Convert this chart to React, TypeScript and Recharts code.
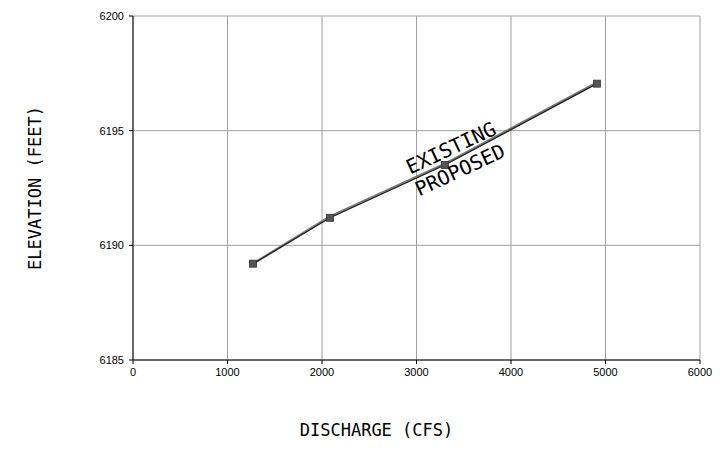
import React from "react";
import {
  LineChart,
  Line,
  XAxis,
  YAxis,
  CartesianGrid,
  ReferenceDot,
  Label,
} from "recharts";

const discharge = [1270, 2085, 3300, 4910];
const existing = [6189.2, 6191.25, 6193.55, 6197.1];
const proposed = [6189.2, 6191.2, 6193.5, 6197.05];
const xTicks = [0, 1000, 2000, 3000, 4000, 5000, 6000];
const yTicks = [6185, 6190, 6195, 6200];
const xTitle = "DISCHARGE (CFS)";
const yTitle = "ELEVATION (FEET)";
const existingLabel = { text: "EXISTING", x: 3365, y: 6194.25 };
const proposedLabel = { text: "PROPOSED", x: 3460, y: 6193.29 };

const data = discharge.map((q, i) => ({ q, existing: existing[i], proposed: proposed[i] }));

const CAD_FONT = "'DejaVu Sans Mono', monospace";
const TICK_FONT = "'Liberation Sans', Arial, sans-serif";

const SquareDot = (props: any) => {
  const { cx, cy, index } = props;
  if (cx == null || cy == null) return null;
  return (
    <rect
      key={`d-${index}`}
      x={cx - 3.5}
      y={cy - 3.5}
      width={7}
      height={7}
      fill="#555"
      stroke="#333"
      strokeWidth={0.8}
    />
  );
};

const rotatedLabel = (text: string) => (props: any) => {
  const vb = props.viewBox || {};
  const cx = (vb.x || 0) + (vb.width || 0) / 2;
  const cy = (vb.y || 0) + (vb.height || 0) / 2;
  return (
    <text
      x={cx}
      y={cy}
      textAnchor="middle"
      dominantBaseline="central"
      transform={`rotate(-25 ${cx} ${cy})`}
      fontFamily={CAD_FONT}
      fontSize={20}
      fill="#000"
    >
      {text}
    </text>
  );
};

export default function App() {
  return (
    <div style={{ position: "absolute", left: 0, top: 0, background: "#fff" }}>
      <LineChart
        width={720}
        height={476}
        data={data}
        margin={{ top: 16, right: 20, bottom: 86, left: 73 }}
      >
        <CartesianGrid stroke="#a0a0a0" strokeWidth={1} />
        <XAxis
          type="number"
          dataKey="q"
          domain={[0, 6000]}
          ticks={xTicks}
          interval={0}
          height={30}
          tickSize={4}
          tickMargin={4}
          stroke="#000"
          tick={{ fill: "#000", fontSize: 11, fontFamily: TICK_FONT }}
          tickLine={{ stroke: "#000" }}
          axisLine={{ stroke: "#000" }}
        >
          <Label
            content={(p: any) => {
              const vb = p.viewBox || {};
              const x = (vb.x || 0) + (vb.width || 0) / 2 - 40;
              const y = (vb.y || 0) + 70;
              return (
                <text
                  x={x}
                  y={y}
                  textAnchor="middle"
                  dominantBaseline="central"
                  fontFamily={CAD_FONT}
                  fontSize={17}
                  fill="#000"
                >
                  {xTitle}
                </text>
              );
            }}
          />
        </XAxis>
        <YAxis
          type="number"
          domain={[6185, 6200]}
          ticks={yTicks}
          interval={0}
          width={60}
          tickSize={4}
          tickMargin={5}
          stroke="#000"
          tick={{ fill: "#000", fontSize: 11, fontFamily: TICK_FONT }}
          tickLine={{ stroke: "#000" }}
          axisLine={{ stroke: "#000" }}
        >
          <Label
            content={(p: any) => {
              const vb = p.viewBox || {};
              const x = 35;
              const y = (vb.y || 0) + (vb.height || 0) / 2;
              return (
                <text
                  x={x}
                  y={y}
                  textAnchor="middle"
                  dominantBaseline="central"
                  transform={`rotate(-90 ${x} ${y})`}
                  fontFamily={CAD_FONT}
                  fontSize={17}
                  fill="#000"
                >
                  {yTitle}
                </text>
              );
            }}
          />
        </YAxis>
        <Line
          type="linear"
          dataKey="existing"
          stroke="#7a7a7a"
          strokeWidth={2.4}
          dot={false}
          activeDot={false}
          isAnimationActive={false}
        />
        <Line
          type="linear"
          dataKey="proposed"
          stroke="#222"
          strokeWidth={1.2}
          dot={SquareDot}
          activeDot={false}
          isAnimationActive={false}
        />
        <ReferenceDot
          x={existingLabel.x}
          y={existingLabel.y}
          r={1}
          fill="none"
          stroke="none"
          label={rotatedLabel(existingLabel.text)}
        />
        <ReferenceDot
          x={proposedLabel.x}
          y={proposedLabel.y}
          r={1}
          fill="none"
          stroke="none"
          label={rotatedLabel(proposedLabel.text)}
        />
      </LineChart>
    </div>
  );
}
